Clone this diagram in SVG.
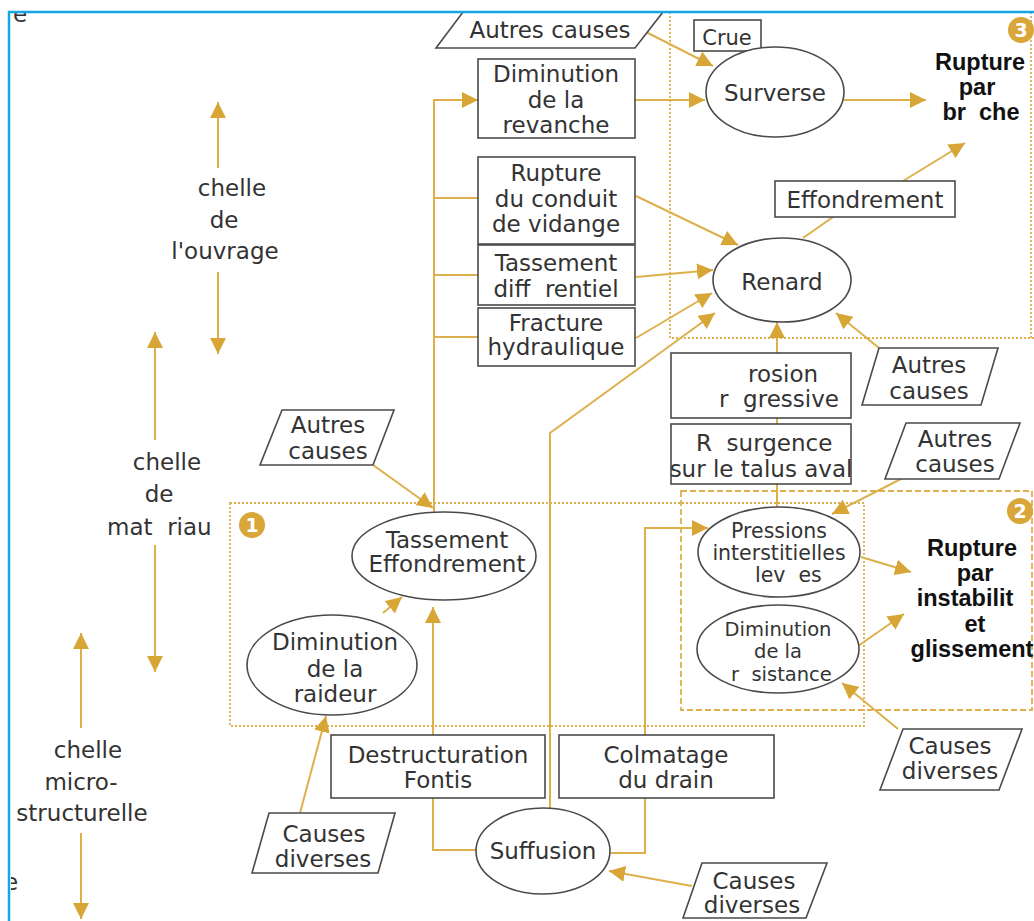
<svg xmlns="http://www.w3.org/2000/svg" width="1034" height="921" viewBox="0 0 1034 921">
<defs>
<style>
.box{fill:#fff;stroke:#4a4a4a;stroke-width:1.6}
.t{font-family:"DejaVu Sans",sans-serif;font-size:23px;fill:#333;text-anchor:middle}
.ts{font-size:20.5px}
.tr{font-size:19.5px}
.st{text-anchor:start;white-space:pre}
.b{font-family:"Liberation Sans",Arial,sans-serif;font-weight:bold;font-size:23.5px;fill:#111;text-anchor:middle}
.c{fill:none;stroke:#DDB04C;stroke-width:2}
.dot{fill:none;stroke:#DDB04C;stroke-width:1.8;stroke-dasharray:2 2}
.dash{fill:none;stroke:#DDB04C;stroke-width:1.8;stroke-dasharray:6 3}
.badge{fill:#D9A63A}
.num{font-family:"DejaVu Sans",sans-serif;font-weight:bold;font-size:19px;fill:#fff;text-anchor:middle}
</style>
<marker id="ah" markerUnits="userSpaceOnUse" markerWidth="18" markerHeight="16" refX="16" refY="8" orient="auto">
<path d="M0,0 L16,8 L0,16 Z" fill="#D8A637"/>
</marker>
<clipPath id="fr"><rect x="11" y="13" width="1023" height="908"/></clipPath>
</defs>
<rect width="1034" height="921" fill="#fff"/>

<g id="fragments" clip-path="url(#fr)">
<text class="t" x="20" y="22">e</text>
<text class="t" x="11" y="890">e</text>
</g>

<g id="groups">
<path class="dot" d="M670,12 V338 H1034 M1031,12 V338"/>
<rect class="dot" x="230" y="503" width="634" height="223"/>
<rect class="dash" x="681" y="491" width="351" height="219"/>
<circle class="badge" cx="252" cy="525" r="13"/>
<text class="num" x="252" y="532">1</text>
<circle class="badge" cx="1020" cy="511" r="13"/>
<text class="num" x="1020" y="518">2</text>
<circle class="badge" cx="1021" cy="30" r="13"/>
<text class="num" x="1021" y="37">3</text>
</g>

<g id="connectors">
<path class="c" d="M434,512 V100 H478" marker-end="url(#ah)"/>
<path class="c" d="M434,198 H478 M434,275 H478 M434,337 H478"/>
<path class="c" d="M642,30 L713,66" marker-end="url(#ah)"/>
<path class="c" d="M635,100 H705" marker-end="url(#ah)"/>
<path class="c" d="M844,100 H926" marker-end="url(#ah)"/>
<path class="c" d="M636,196 L738,245" marker-end="url(#ah)"/>
<path class="c" d="M636,277 L713,270" marker-end="url(#ah)"/>
<path class="c" d="M636,338 L712,293" marker-end="url(#ah)"/>
<path class="c" d="M550,808 V433 L715,313" marker-end="url(#ah)"/>
<path class="c" d="M803,238 L833,217"/>
<path class="c" d="M903,181 L965,143" marker-end="url(#ah)"/>
<path class="c" d="M879,348 L836,313" marker-end="url(#ah)"/>
<path class="c" d="M777,508 V322" marker-end="url(#ah)"/>
<path class="c" d="M901,479 L832,514" marker-end="url(#ah)"/>
<path class="c" d="M861,557 L911,572" marker-end="url(#ah)"/>
<path class="c" d="M858,646 L904,614" marker-end="url(#ah)"/>
<path class="c" d="M898,729 L842,683" marker-end="url(#ah)"/>
<path class="c" d="M611,853 H645 V528 H708" marker-end="url(#ah)"/>
<path class="c" d="M476,850 H433 V607" marker-end="url(#ah)"/>
<path class="c" d="M373,465 L433,508" marker-end="url(#ah)"/>
<path class="c" d="M383,613 L402,597" marker-end="url(#ah)"/>
<path class="c" d="M300,813 L326,716" marker-end="url(#ah)"/>
<path class="c" d="M692,886 L609,871" marker-end="url(#ah)"/>
<path class="c" d="M218,168 V102" marker-end="url(#ah)"/>
<path class="c" d="M218,272 V354" marker-end="url(#ah)"/>
<path class="c" d="M155,440 V332" marker-end="url(#ah)"/>
<path class="c" d="M155,545 V672" marker-end="url(#ah)"/>
<path class="c" d="M81,728 V633" marker-end="url(#ah)"/>
<path class="c" d="M81,833 V919" marker-end="url(#ah)"/>
</g>

<g id="scale-ouvrage">
<text class="t" x="232" y="196">chelle</text>
<text class="t" x="224" y="228">de</text>
<text class="t" x="225" y="259">l'ouvrage</text>
</g>
<g id="scale-materiau">
<text class="t" x="167" y="470">chelle</text>
<text class="t" x="159" y="502">de</text>
<text class="t st" x="107" y="535">mat  riau</text>
</g>
<g id="scale-micro">
<text class="t" x="88" y="758">chelle</text>
<text class="t" x="81" y="790">micro-</text>
<text class="t" x="82" y="821">structurelle</text>
</g>

<g id="autres-causes-top">
<polygon class="box" points="436,48 463,12 663,12 635,48"/>
<text class="t" x="550" y="38">Autres causes</text>
</g>
<g id="crue">
<rect class="box" x="694" y="20" width="67" height="31"/>
<text class="t" style="font-size:21px" x="727" y="45">Crue</text>
</g>
<g id="surverse">
<ellipse class="box" cx="775" cy="92" rx="69" ry="45"/>
<text class="t" x="775" y="101">Surverse</text>
</g>
<g id="diminution-revanche">
<rect class="box" x="478" y="59" width="157" height="79"/>
<text class="t" x="556" y="82">Diminution</text>
<text class="t" x="556" y="108">de la</text>
<text class="t" x="556" y="133">revanche</text>
</g>
<g id="rupture-conduit">
<rect class="box" x="478" y="157" width="157" height="87"/>
<text class="t" x="556" y="181">Rupture</text>
<text class="t" x="556" y="207">du conduit</text>
<text class="t" x="556" y="232">de vidange</text>
</g>
<g id="tassement-diff">
<rect class="box" x="478" y="245" width="157" height="60"/>
<text class="t" x="556" y="271">Tassement</text>
<text class="t" x="556" y="297" style="white-space:pre">diff  rentiel</text>
</g>
<g id="fracture">
<rect class="box" x="478" y="308" width="157" height="58"/>
<text class="t" x="556" y="331">Fracture</text>
<text class="t" x="556" y="355">hydraulique</text>
</g>
<g id="rupture-breche">
<text class="b" x="980" y="70">Rupture</text>
<text class="b" x="977" y="95">par</text>
<text class="b" x="981" y="120" style="white-space:pre">br  che</text>
</g>
<g id="effondrement">
<rect class="box" x="775" y="181" width="180" height="36"/>
<text class="t" x="865" y="208">Effondrement</text>
</g>
<g id="renard">
<ellipse class="box" cx="782" cy="280" rx="69" ry="42"/>
<text class="t" x="782" y="290">Renard</text>
</g>
<g id="autres-causes-r1">
<polygon class="box" points="879,348 998,348 981,405 862,405"/>
<text class="t" x="929" y="373">Autres</text>
<text class="t" x="929" y="399">causes</text>
</g>
<g id="erosion">
<rect class="box" x="671" y="353" width="180" height="65"/>
<text class="t st" x="748" y="382">rosion</text>
<text class="t st" x="719" y="407">r  gressive</text>
</g>
<g id="resurgence">
<rect class="box" x="671" y="424" width="180" height="60"/>
<text class="t st" x="696" y="451">R  surgence</text>
<text class="t" x="761" y="477">sur le talus aval</text>
</g>
<g id="autres-causes-r2">
<polygon class="box" points="906,423 1020,423 999,479 885,479"/>
<text class="t" x="955" y="447">Autres</text>
<text class="t" x="955" y="472">causes</text>
</g>
<g id="pressions">
<ellipse class="box" cx="779" cy="552" rx="81" ry="45"/>
<text class="t ts" x="779" y="538">Pressions</text>
<text class="t ts" x="779" y="560">interstitielles</text>
<text class="t ts st" x="755" y="582">lev  es</text>
</g>
<g id="diminution-resistance">
<ellipse class="box" cx="778" cy="649" rx="81" ry="44"/>
<text class="t tr" x="778" y="636">Diminution</text>
<text class="t tr" x="778" y="658">de la</text>
<text class="t tr st" x="731" y="681">r  sistance</text>
</g>
<g id="rupture-instabilite">
<text class="b" x="972" y="556">Rupture</text>
<text class="b" x="975" y="581">par</text>
<text class="b" x="965" y="606">instabilit</text>
<text class="b" x="975" y="632">et</text>
<text class="b" x="972" y="657">glissement</text>
</g>
<g id="causes-diverses-r">
<polygon class="box" points="903,729 1022,729 999,790 880,790"/>
<text class="t" x="950" y="754">Causes</text>
<text class="t" x="950" y="779">diverses</text>
</g>
<g id="autres-causes-l">
<polygon class="box" points="282,410 394,410 373,465 260,465"/>
<text class="t" x="328" y="433">Autres</text>
<text class="t" x="328" y="459">causes</text>
</g>
<g id="tassement-effondrement">
<ellipse class="box" cx="444" cy="556" rx="92" ry="44"/>
<text class="t" x="447" y="548">Tassement</text>
<text class="t" x="447" y="572">Effondrement</text>
</g>
<g id="diminution-raideur">
<ellipse class="box" cx="332" cy="665" rx="85" ry="50"/>
<text class="t" x="335" y="650">Diminution</text>
<text class="t" x="335" y="677">de la</text>
<text class="t" x="335" y="702">raideur</text>
</g>
<g id="destructuration">
<rect class="box" x="331" y="735" width="214" height="63"/>
<text class="t" x="438" y="763">Destructuration</text>
<text class="t" x="438" y="788">Fontis</text>
</g>
<g id="colmatage">
<rect class="box" x="559" y="735" width="215" height="63"/>
<text class="t" x="666" y="763">Colmatage</text>
<text class="t" x="666" y="788">du drain</text>
</g>
<g id="suffusion">
<ellipse class="box" cx="543" cy="851" rx="67" ry="43"/>
<text class="t" x="543" y="859">Suffusion</text>
</g>
<g id="causes-diverses-bl">
<polygon class="box" points="269,813 395,813 378,873 252,873"/>
<text class="t" x="324" y="842">Causes</text>
<text class="t" x="323" y="867">diverses</text>
</g>
<g id="causes-diverses-br">
<polygon class="box" points="702,863 827,863 806,918 683,918"/>
<text class="t" x="754" y="889">Causes</text>
<text class="t" x="752" y="913">diverses</text>
</g>

<g id="frame">
<path d="M9,921 V12 H1034" fill="none" stroke="#16A6E6" stroke-width="2.5"/>
</g>
</svg>
